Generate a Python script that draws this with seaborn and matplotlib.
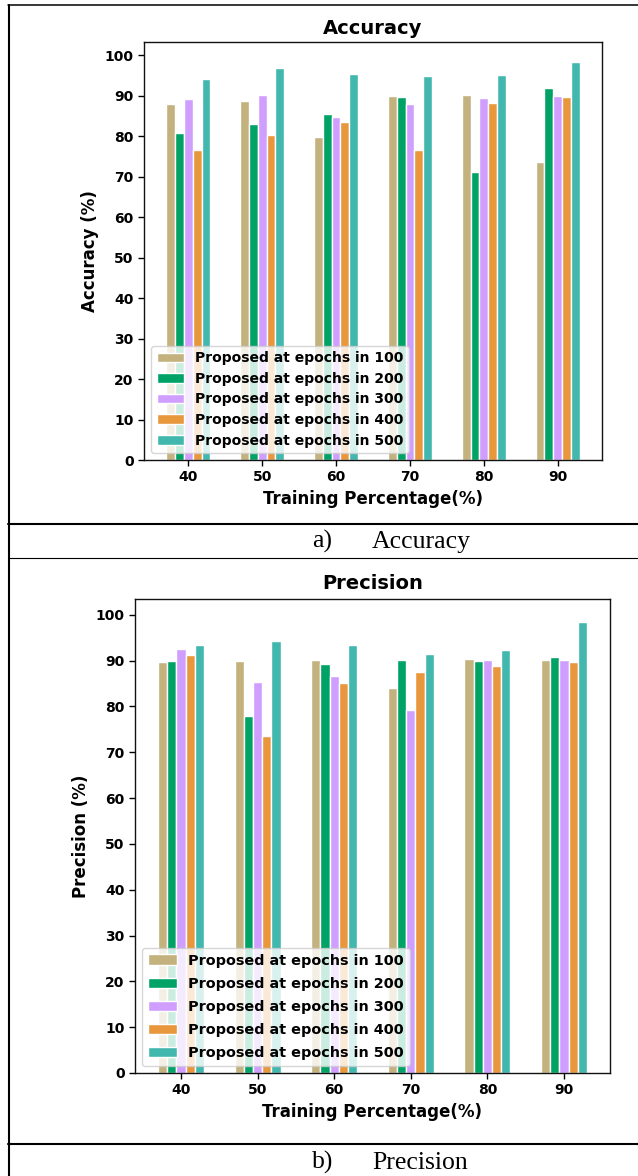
import numpy as np
import pandas as pd
import seaborn as sns
import matplotlib
matplotlib.use("Agg")
import matplotlib.pyplot as plt
from matplotlib.lines import Line2D

# 学習データの割合 (x軸カテゴリ)
training_pct = ["40", "50", "60", "70", "80", "90"]
series_labels = [
    "Proposed at epochs in 100",
    "Proposed at epochs in 200",
    "Proposed at epochs in 300",
    "Proposed at epochs in 400",
    "Proposed at epochs in 500",
]

# Accuracy (%)
acc_100 = [88.1, 88.7, 79.9, 90.0, 90.3, 73.6]
acc_200 = [80.9, 83.1, 85.5, 89.8, 71.2, 91.9]
acc_300 = [89.3, 90.3, 84.7, 87.9, 89.5, 90.0]
acc_400 = [76.7, 80.4, 83.6, 76.7, 88.2, 89.8]
acc_500 = [94.1, 97.0, 95.5, 94.9, 95.2, 98.4]

# Precision (%)
prec_100 = [89.6, 89.8, 90.1, 83.9, 90.4, 90.1]
prec_200 = [89.8, 78.0, 89.3, 90.1, 89.8, 90.7]
prec_300 = [92.6, 85.3, 86.7, 79.3, 90.1, 90.1]
prec_400 = [91.2, 73.5, 85.0, 87.5, 88.9, 89.6]
prec_500 = [93.4, 94.2, 93.4, 91.4, 92.3, 98.5]

bar_colors = ["#c4b27e", "#00a266", "#cf9eff", "#e8973d", "#42b7ae"]


def to_long(series):
    # 横持ちのリストを seaborn 用の縦持ち DataFrame に変換
    rows = []
    for label, values in zip(series_labels, series):
        for pct, v in zip(training_pct, values):
            rows.append({"pct": pct, "value": v, "series": label})
    return pd.DataFrame(rows)


def draw_panel(fig, rect, df, title, ylabel, legend_size, labelspacing, title_pad):
    ax = fig.add_axes(rect)
    sns.barplot(
        data=df, x="pct", y="value", hue="series",
        order=training_pct, hue_order=series_labels,
        palette=bar_colors, width=0.6, saturation=1,
        edgecolor="white", linewidth=1, errorbar=None, ax=ax,
    )
    ax.set_xlim(-0.6, 5.6)
    ax.set_yticks(np.arange(0, 101, 10))
    ax.set_title(title, fontsize=14, fontweight="bold", pad=title_pad)
    ax.set_xlabel("Training Percentage(%)", fontsize=12, fontweight="bold")
    ax.set_ylabel(ylabel, fontsize=12, fontweight="bold")
    ax.tick_params(axis="both", labelsize=10, length=4, width=1, color="black",
                   labelcolor="black")
    for lbl in ax.get_xticklabels() + ax.get_yticklabels():
        lbl.set_fontweight("bold")
    for sp in ax.spines.values():
        sp.set_visible(True)
        sp.set_color("#111111")
        sp.set_linewidth(1.0)
    ax.legend(loc="lower left", prop={"weight": "bold", "size": legend_size},
              labelspacing=labelspacing, framealpha=0.8)
    return ax


def main():
    sns.set_theme(style="ticks")
    plt.rcParams["font.family"] = ["DejaVu Sans"]
    plt.rcParams["text.color"] = "black"
    plt.rcParams["axes.labelcolor"] = "black"

    W, H = 638, 1176
    fig = plt.figure(figsize=(W / 100, H / 100), dpi=100)

    def fx(px):
        return px / W

    def fy(py):
        return 1 - py / H

    # (a) Accuracy
    acc_df = to_long([acc_100, acc_200, acc_300, acc_400, acc_500])
    draw_panel(fig, [fx(144), fy(460), fx(602) - fx(144), fy(42) - fy(460)],
               acc_df, "Accuracy", "Accuracy (%)", 10, 0.47, 6)

    # (b) Precision
    prec_df = to_long([prec_100, prec_200, prec_300, prec_400, prec_500])
    draw_panel(fig, [fx(135), fy(1073), fx(610) - fx(135), fy(599) - fy(1073)],
               prec_df, "Precision", "Precision (%)", 10.4, 0.63, 7)

    # 表の罫線
    def hline(py, lw):
        fig.add_artist(Line2D([fx(8), 1.0], [fy(py), fy(py)], color="black",
                              linewidth=lw, transform=fig.transFigure))

    hline(5, 1.1)
    hline(524, 1.5)
    hline(557.5, 0.8)
    hline(1144, 1.5)
    fig.add_artist(Line2D([fx(9), fx(9)], [fy(5), 0.0], color="black",
                          linewidth=1.5, transform=fig.transFigure))

    # キャプション
    cap_font = dict(family="Liberation Serif", fontsize=18.5, color="black",
                    va="baseline", ha="left")
    fig.text(fx(312), fy(548), "a)", **cap_font)
    fig.text(fx(372), fy(548), "Accuracy", **cap_font)
    fig.text(fx(312), fy(1169), "b)", **cap_font)
    fig.text(fx(372), fy(1169), "Precision", **cap_font)

    fig.savefig("out.png", dpi=100)
    plt.close(fig)


if __name__ == "__main__":
    main()
